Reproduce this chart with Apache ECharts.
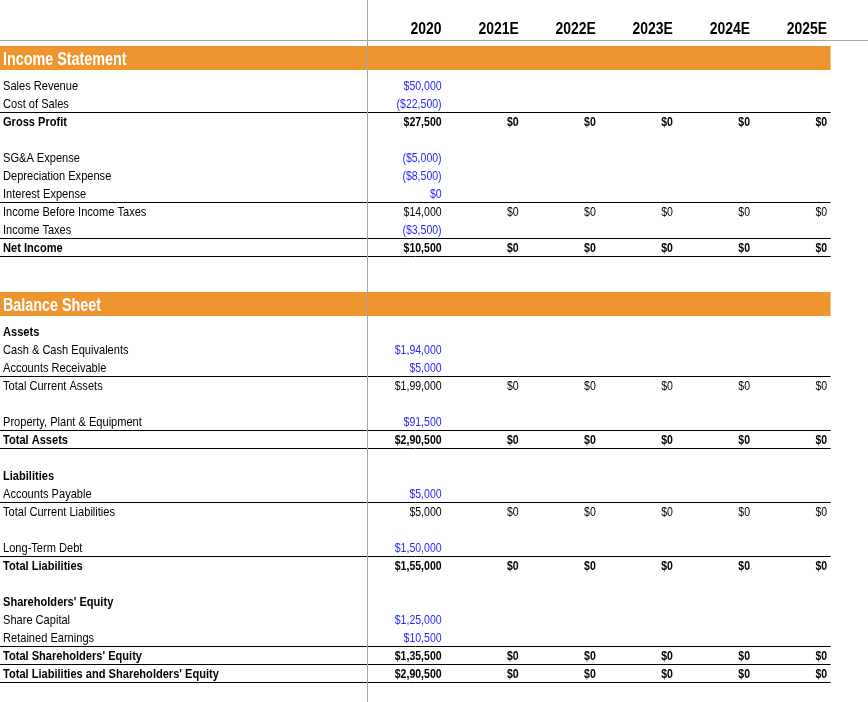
<!DOCTYPE html>
<html>
<head>
<meta charset="utf-8">
<script src="https://cdn.jsdelivr.net/npm/echarts@6/dist/echarts.min.js"></script>
<style>
  html, body { margin: 0; padding: 0; background: #fff; }
  #chart { width: 868px; height: 702px; }
</style>
</head>
<body>
<div id="chart"></div>
<script>
// ---- data ----
const years = ['2020', '2021E', '2022E', '2023E', '2024E', '2025E'];
const sectionTitles = ['Income Statement', 'Balance Sheet'];

const incomeLabels = ['Sales Revenue', 'Cost of Sales', 'Gross Profit', '', 'SG&A Expense', 'Depreciation Expense',
  'Interest Expense', 'Income Before Income Taxes', 'Income Taxes', 'Net Income', '', ''];
const income2020 = [50000, -22500, 27500, null, -5000, -8500, 0, 14000, -3500, 10500, null, null];
const incomeForecast = [null, null, [0, 0, 0, 0, 0], null, null, null, null, [0, 0, 0, 0, 0], null, [0, 0, 0, 0, 0], null, null];

const balanceLabels = ['Assets', 'Cash & Cash Equivalents', 'Accounts Receivable', 'Total Current Assets', '',
  'Property, Plant & Equipment', 'Total Assets', '', 'Liabilities', 'Accounts Payable', 'Total Current Liabilities', '',
  'Long-Term Debt', 'Total Liabilities', '', "Shareholders' Equity", 'Share Capital', 'Retained Earnings',
  "Total Shareholders' Equity", "Total Liabilities and Shareholders' Equity"];
const balance2020 = [null, 194000, 5000, 199000, null, 91500, 290500, null, null, 5000, 5000, null,
  150000, 155000, null, null, 125000, 10500, 135500, 290500];
const balanceForecast = [null, null, null, [0, 0, 0, 0, 0], null, null, [0, 0, 0, 0, 0], null, null, null, [0, 0, 0, 0, 0], null,
  null, [0, 0, 0, 0, 0], null, null, null, null, [0, 0, 0, 0, 0], [0, 0, 0, 0, 0]];

// ---- styling config ----
const boldRows = ['Gross Profit', 'Net Income', 'Assets', 'Total Assets', 'Liabilities', 'Total Liabilities',
  "Shareholders' Equity", "Total Shareholders' Equity", "Total Liabilities and Shareholders' Equity"];
const inputRows = ['Sales Revenue', 'Cost of Sales', 'SG&A Expense', 'Depreciation Expense', 'Interest Expense',
  'Income Taxes', 'Cash & Cash Equivalents', 'Accounts Receivable', 'Property, Plant & Equipment',
  'Accounts Payable', 'Long-Term Debt', 'Share Capital', 'Retained Earnings'];
const ruledRows = ['Cost of Sales', 'Interest Expense', 'Income Taxes', 'Net Income', 'Accounts Receivable',
  'Property, Plant & Equipment', 'Total Assets', 'Accounts Payable', 'Long-Term Debt', 'Retained Earnings',
  "Total Shareholders' Equity", "Total Liabilities and Shareholders' Equity"];

// no Arial Narrow offline: squeeze Liberation Sans (Arial metrics) horizontally
const FONT = "'Liberation Sans', Arial, sans-serif";
const NARROW = 0.82, NARROW_NUM = 0.78;
const BLUE = '#2727ff';
const ORANGE = '#ee9530';
const HEADER_H = 40, GAP_H = 6, BAND_H = 24, ROW_H = 18;
const LABEL_W = 368, COL_W = 77.1, PAD = 3.5, TABLE_END = LABEL_W + COL_W * 6;

// indian style grouping, negatives in brackets
function fmt(v) {
  let s = String(Math.abs(v));
  if (s.length > 3) {
    const head = s.slice(0, -3).replace(/\B(?=(\d{2})+(?!\d))/g, ',');
    s = head + ',' + s.slice(-3);
  }
  return v < 0 ? '($' + s + ')' : '$' + s;
}

// walk the sheet top-down to build rows
const rows = [];
let y = 0;
rows.push({ kind: 'header', top: y, h: HEADER_H }); y += HEADER_H + GAP_H;
[[incomeLabels, income2020, incomeForecast], [balanceLabels, balance2020, balanceForecast]].forEach((sec, si) => {
  rows.push({ kind: 'band', top: y, h: BAND_H, label: sectionTitles[si] }); y += BAND_H + GAP_H;
  sec[0].forEach((lab, i) => {
    rows.push({ kind: 'item', top: y, h: ROW_H, label: lab, v0: sec[1][i], fc: sec[2][i] });
    y += ROW_H;
  });
});

function txt(text, x, y, align, fill, font, sx) {
  return { type: 'text', x: x, y: y, scaleX: sx,
    style: { text: text, x: 0, y: 0, align: align, verticalAlign: 'middle', fill: fill, font: font } };
}

const chart = echarts.init(document.getElementById('chart'));

function renderRow(params, api) {
  const r = rows[params.dataIndex];
  const top = api.value(1);
  const p0 = api.coord([0, top]);
  const p1 = api.coord([TABLE_END, top + r.h]);
  const mid = (p0[1] + p1[1]) / 2;
  const kids = [];
  const colRight = k => api.coord([LABEL_W + COL_W * (k + 1) - PAD, top])[0];

  if (r.kind === 'header') {
    years.forEach((yr, k) => {
      kids.push(txt(yr, colRight(k), p0[1] + 29.5, 'right', '#000', 'bold 17px ' + FONT, NARROW));
    });
  } else if (r.kind === 'band') {
    kids.push({ type: 'rect', shape: { x: p0[0], y: p0[1], width: p1[0] - p0[0], height: p1[1] - p0[1] }, style: { fill: ORANGE } });
    kids.push(txt(r.label, p0[0] + 3, mid + 2, 'left', '#fff', 'bold 17.5px ' + FONT, NARROW));
  } else {
    const bold = boldRows.includes(r.label);
    const f = (bold ? 'bold ' : '') + '13.5px ' + FONT;
    const ty = mid + 1.5;
    if (r.label) {
      kids.push(txt(r.label, p0[0] + 3, ty, 'left', '#000', f, NARROW));
    }
    if (r.v0 !== null) {
      kids.push(txt(fmt(r.v0), colRight(0), ty, 'right', inputRows.includes(r.label) ? BLUE : '#000', f, NARROW_NUM));
    }
    if (r.fc) {
      r.fc.forEach((v, k) => {
        kids.push(txt(fmt(v), colRight(k + 1), ty, 'right', '#000', f, NARROW_NUM));
      });
    }
    if (ruledRows.includes(r.label)) {
      const ly = Math.round(p1[1]) + 0.5;
      kids.push({ type: 'line', shape: { x1: p0[0], y1: ly, x2: p1[0], y2: ly }, style: { stroke: '#000', lineWidth: 1 } });
    }
  }
  return { type: 'group', children: kids };
}

function renderFrame(params, api) {
  const vx = Math.round(api.coord([LABEL_W - 1, 0])[0]) + 0.5;
  const hy = Math.round(api.coord([0, HEADER_H])[1]) + 0.5;
  const a = api.coord([0, 0]);
  const b = api.coord([868, 702]);
  return { type: 'group', children: [
    { type: 'line', shape: { x1: a[0], y1: hy, x2: b[0], y2: hy }, style: { stroke: '#a6a6a6', lineWidth: 1 } },
    { type: 'line', shape: { x1: vx, y1: a[1], x2: vx, y2: b[1] }, style: { stroke: '#a6a6a6', lineWidth: 1 } }
  ] };
}

chart.setOption({
  animation: false,
  grid: { left: 0, right: 0, top: 0, bottom: 0 },
  xAxis: { type: 'value', min: 0, max: 868, show: false },
  yAxis: { type: 'value', min: 0, max: 702, inverse: true, show: false },
  series: [
    { type: 'custom', renderItem: renderRow, data: rows.map(r => [0, r.top]), silent: true, z: 2 },
    { type: 'custom', renderItem: renderFrame, data: [[0, 0]], silent: true, z: 3 }
  ]
});
</script>
</body>
</html>
